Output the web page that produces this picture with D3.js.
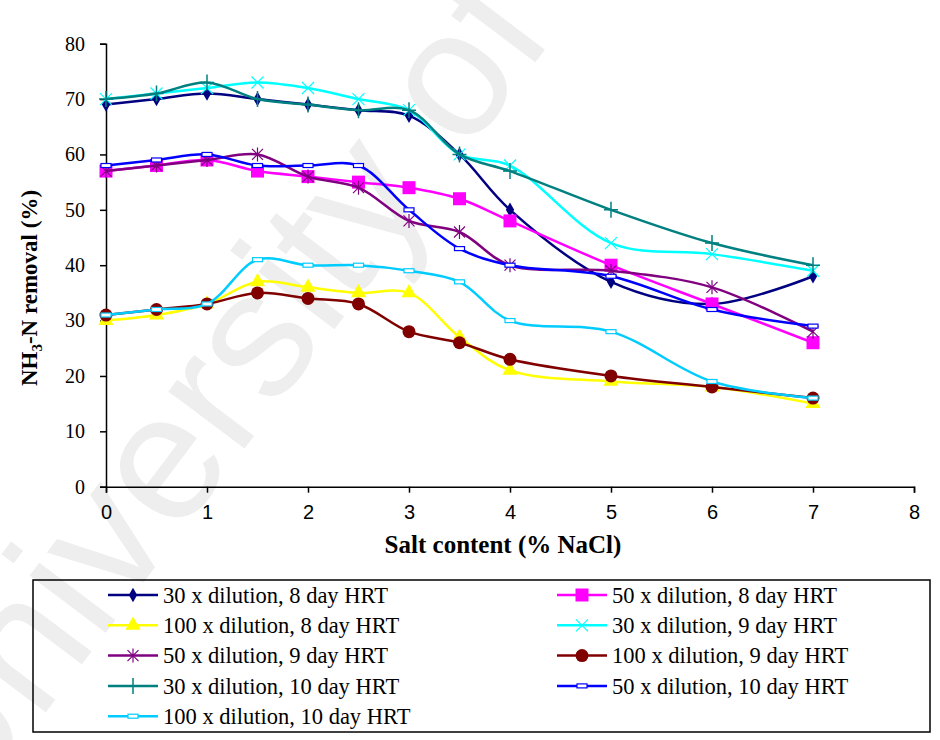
<!DOCTYPE html>
<html>
<head>
<meta charset="utf-8">
<script src="https://cdn.jsdelivr.net/npm/d3@7"></script>
<style>
  html, body { margin: 0; padding: 0; background: #fff; }
  svg { display: block; }
</style>
</head>
<body>
<svg id="chart" width="940" height="740"></svg>
<script>
// Salt content levels (% NaCl)
const saltLevels = [0, 0.5, 1, 1.5, 2, 2.5, 3, 3.5, 4, 5, 6, 7];

// NH3-N removal (%) for each dilution / HRT combination
const dil30Hrt8  = [69, 70, 71, 70, 69, 68, 67, 60, 50, 37, 33, 38];
const dil50Hrt8  = [57, 58, 59, 57, 56, 55, 54, 52, 48, 40, 33, 26];
const dil100Hrt8 = [30, 31, 33, 37, 36, 35, 35, 27, 21, 19, 18, 15];
const dil30Hrt9  = [70, 71, 72, 73, 72, 70, 68, 60, 58, 44, 42, 39];
const dil50Hrt9  = [57, 58, 59, 60, 56, 54, 48, 46, 40, 39, 36, 28];
const dil100Hrt9 = [31, 32, 33, 35, 34, 33, 28, 26, 23, 20, 18, 16];
const dil30Hrt10 = [70, 71, 73, 70, 69, 68, 68, 60, 57, 50, 44, 40];
const dil50Hrt10 = [58, 59, 60, 58, 58, 58, 50, 43, 40, 38, 32, 29];
const dil100Hrt10 = [31, 32, 33, 41, 40, 40, 39, 37, 30, 28, 19, 16];

const seriesNames = [
  "30 x dilution, 8 day HRT", "50 x dilution, 8 day HRT", "100 x dilution, 8 day HRT",
  "30 x dilution, 9 day HRT", "50 x dilution, 9 day HRT", "100 x dilution, 9 day HRT",
  "30 x dilution, 10 day HRT", "50 x dilution, 10 day HRT", "100 x dilution, 10 day HRT"
];
const seriesValues = [dil30Hrt8, dil50Hrt8, dil100Hrt8, dil30Hrt9, dil50Hrt9,
                      dil100Hrt9, dil30Hrt10, dil50Hrt10, dil100Hrt10];
const seriesColors = ["#000080", "#FF00FF", "#FFFF00", "#00FFFF", "#800080",
                      "#800000", "#008080", "#0000FF", "#00CCFF"];
const seriesMarkers = ["diamond", "square", "triangle", "cross", "star",
                       "circle", "plus", "dash", "dash"];

const xTicks = [0, 1, 2, 3, 4, 5, 6, 7, 8];
const yTicks = [0, 10, 20, 30, 40, 50, 60, 70, 80];

const SERIF = '"Liberation Serif", "Times New Roman", Times, "DejaVu Serif", serif';
const SANS = '"Liberation Sans", Arial, Helvetica, sans-serif';

const svg = d3.select("#chart");

// faint background watermark
svg.append("text")
  .style("font-family", SANS)
  .attr("x", -40).attr("y", 826)
  .attr("transform", "rotate(-53,-40,826)")
  .attr("font-size", 180)
  .attr("fill", "#eeeeee")
  .text("University of Malaya");

const x = d3.scaleLinear().domain([0, 8]).range([106, 914]);
const y = d3.scaleLinear().domain([0, 80]).range([486.7, 43.7]);

// axes
const yAxis = svg.append("g").attr("transform", `translate(${x(0)},0)`)
  .call(d3.axisLeft(y).tickValues(yTicks).tickSize(6).tickPadding(15));
yAxis.select(".domain").attr("stroke", "#000").attr("stroke-width", 1.5);
yAxis.selectAll(".tick line").attr("stroke", "#000").attr("stroke-width", 1.5);
yAxis.selectAll(".tick text")
  .style("font-family", SERIF).style("font-size", "20px").attr("fill", "#000");

const xAxis = svg.append("g").attr("transform", `translate(0,${y(0)})`)
  .call(d3.axisBottom(x).tickValues(xTicks).tickSize(6).tickPadding(12));
xAxis.select(".domain").attr("stroke", "#000").attr("stroke-width", 1.5);
xAxis.selectAll(".tick line").attr("stroke", "#000").attr("stroke-width", 1.5);
xAxis.selectAll(".tick text")
  .style("font-family", SANS).style("font-size", "20px").attr("fill", "#000");

// axis titles
svg.append("text")
  .style("font-family", SERIF)
  .attr("x", 503).attr("y", 553)
  .attr("text-anchor", "middle")
  .attr("font-weight", "bold").attr("font-size", 25)
  .text("Salt content (% NaCl)");

const yTitle = svg.append("text")
  .style("font-family", SERIF)
  .attr("transform", "translate(37,288) rotate(-90)")
  .attr("text-anchor", "middle")
  .attr("font-weight", "bold").attr("font-size", 23);
yTitle.append("tspan").text("NH");
yTitle.append("tspan").attr("font-size", 15).attr("dy", 5).text("3");
yTitle.append("tspan").attr("dy", -5).text("-N removal (%)");

// marker drawing
function drawMarker(g, type, color) {
  switch (type) {
    case "diamond":
      g.append("path").attr("d", d3.symbol(d3.symbolDiamond, 60)()).attr("fill", color);
      break;
    case "square":
      g.append("rect").attr("x", -6.5).attr("y", -6.5).attr("width", 13).attr("height", 13).attr("fill", color);
      break;
    case "triangle":
      g.append("path").attr("d", d3.symbol(d3.symbolTriangle, 100)()).attr("fill", color);
      break;
    case "circle":
      g.append("circle").attr("r", 6.5).attr("fill", color);
      break;
    case "cross":
      g.append("path").attr("d", "M-6,-6L6,6M-6,6L6,-6").attr("stroke", color).attr("stroke-width", 1.2).attr("fill", "none");
      break;
    case "star":
      g.append("path").attr("d", "M-5.5,-5.5L5.5,5.5M-5.5,5.5L5.5,-5.5M0,-7L0,7").attr("stroke", color).attr("stroke-width", 1.2).attr("fill", "none");
      break;
    case "plus":
      g.append("path").attr("d", "M0,-8L0,8M-7,0L7,0").attr("stroke", color).attr("stroke-width", 1.5).attr("fill", "none");
      break;
    case "dash":
      g.append("rect").attr("x", -5).attr("y", -2).attr("width", 10).attr("height", 4)
        .attr("fill", "#fff").attr("stroke", color).attr("stroke-width", 1.2);
      break;
  }
}

const line = d3.line()
  .x((d, i) => x(saltLevels[i]))
  .y(d => y(d))
  .curve(d3.curveCatmullRom.alpha(0.5));

seriesValues.forEach((vals, s) => {
  const g = svg.append("g");
  g.append("path").attr("d", line(vals))
    .attr("fill", "none").attr("stroke", seriesColors[s]).attr("stroke-width", 2.5);
  vals.forEach((v, i) => {
    const m = g.append("g").attr("transform", `translate(${x(saltLevels[i])},${y(v)})`);
    drawMarker(m, seriesMarkers[s], seriesColors[s]);
  });
});

// legend
svg.append("rect")
  .attr("x", 33).attr("y", 580).attr("width", 897).attr("height", 152)
  .attr("fill", "none").attr("stroke", "#000").attr("stroke-width", 1.5);

seriesNames.forEach((name, s) => {
  const col = s % 2, row = Math.floor(s / 2);
  const lx = col === 0 ? 108 : 557;
  const ly = 595 + row * 30.3;
  const g = svg.append("g");
  g.append("line").attr("x1", lx).attr("x2", lx + 50).attr("y1", ly).attr("y2", ly)
    .attr("stroke", seriesColors[s]).attr("stroke-width", 2.5);
  const m = g.append("g").attr("transform", `translate(${lx + 25},${ly})`);
  drawMarker(m, seriesMarkers[s], seriesColors[s]);
  g.append("text").style("font-family", SERIF)
    .attr("x", lx + 55).attr("y", ly).attr("dy", "0.35em")
    .attr("font-size", 22.5).text(name);
});
</script>
</body>
</html>
